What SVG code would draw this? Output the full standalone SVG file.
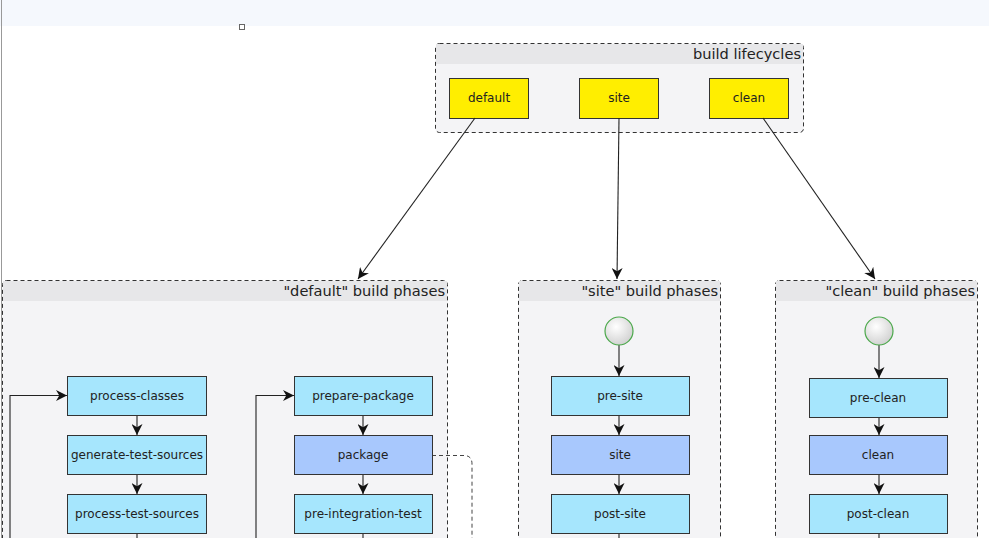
<svg xmlns="http://www.w3.org/2000/svg" width="989" height="538" viewBox="0 0 989 538">
<style>
.cont{fill:#f4f4f6;stroke:#333;stroke-width:1;stroke-dasharray:4,3}
.hdr{fill:#e7e7e9}
.title{font-family:"DejaVu Sans",sans-serif;font-size:14.6px;fill:#222;text-anchor:end}
.lc{fill:#ffee00;stroke:#333;stroke-width:1}
.ph{fill:#a6e6fd;stroke:#333;stroke-width:1}
.phm{fill:#a8c8fd;stroke:#333;stroke-width:1}
.lbl{font-family:"DejaVu Sans",sans-serif;font-size:12px;fill:#222;text-anchor:middle}
.edge{fill:none;stroke:#222;stroke-width:1.1}
.dash{fill:none;stroke:#444;stroke-width:1;stroke-dasharray:4,3}
.start{fill:url(#g);stroke:#4aa84a;stroke-width:1.2}
</style>
<defs>
<marker id="ah" viewBox="0 0 10 10" refX="10" refY="5" markerWidth="11" markerHeight="11" markerUnits="userSpaceOnUse" orient="auto">
<path d="M0,0 L10,5 L0,10 L3,5 z" fill="#111"/>
</marker>
<radialGradient id="g" cx="0.4" cy="0.35" r="0.7">
<stop offset="0" stop-color="#ffffff"/>
<stop offset="1" stop-color="#cfcfcf"/>
</radialGradient>
</defs>
<rect x="0" y="0" width="989" height="538" fill="#ffffff"/>
<rect x="0" y="0" width="989" height="26" fill="#f5f8fd"/>
<line x1="1.5" y1="0" x2="1.5" y2="538" stroke="#999" stroke-width="1"/>
<rect x="239.5" y="24.5" width="5" height="5" fill="#fff" stroke="#666" stroke-width="1"/>

<g id="build-lifecycles">
<rect class="cont" x="435.5" y="43.5" width="368" height="89" rx="4"/>
<rect class="hdr" x="436" y="44" width="367" height="20"/>
<text class="title" x="801" y="59">build lifecycles</text>
</g>
<g id="lc-default"><rect class="lc" x="449.5" y="78.5" width="79" height="40"/><text class="lbl" x="489" y="102">default</text></g>
<g id="lc-site"><rect class="lc" x="579.5" y="78.5" width="79" height="40"/><text class="lbl" x="619" y="102">site</text></g>
<g id="lc-clean"><rect class="lc" x="709.5" y="78.5" width="79" height="40"/><text class="lbl" x="749" y="102">clean</text></g>

<g id="default-phases">
<rect class="cont" x="2.5" y="280.5" width="445" height="270" rx="4"/>
<rect class="hdr" x="3" y="281" width="444" height="20"/>
<text class="title" x="445" y="296">"default" build phases</text>
</g>
<g id="site-phases">
<rect class="cont" x="518.5" y="280.5" width="202" height="270" rx="4"/>
<rect class="hdr" x="519" y="281" width="201" height="20"/>
<text class="title" x="718" y="296">"site" build phases</text>
</g>
<g id="clean-phases">
<rect class="cont" x="775.5" y="280.5" width="202" height="270" rx="4"/>
<rect class="hdr" x="776" y="281" width="201" height="20"/>
<text class="title" x="975" y="296">"clean" build phases</text>
</g>

<g id="connectors">
<line class="edge" x1="475" y1="118" x2="358" y2="279" marker-end="url(#ah)"/>
<line class="edge" x1="619" y1="118" x2="617" y2="279" marker-end="url(#ah)"/>
<line class="edge" x1="763" y1="118" x2="875" y2="279" marker-end="url(#ah)"/>
<polyline class="edge" points="10,538 10,395.5 67,395.5" marker-end="url(#ah)"/>
<polyline class="edge" points="256,538 256,395.5 294,395.5" marker-end="url(#ah)"/>
<line class="edge" x1="137" y1="415" x2="137" y2="435" marker-end="url(#ah)"/>
<line class="edge" x1="137" y1="474" x2="137" y2="494" marker-end="url(#ah)"/>
<line class="edge" x1="137" y1="533" x2="137" y2="538"/>
<line class="edge" x1="363" y1="415" x2="363" y2="435" marker-end="url(#ah)"/>
<line class="edge" x1="363" y1="474" x2="363" y2="494" marker-end="url(#ah)"/>
<line class="edge" x1="363" y1="533" x2="363" y2="538"/>
<path class="dash" d="M432,455.5 H464 Q472,455.5 472,464 V538"/>
<line class="edge" x1="619" y1="345" x2="619" y2="376" marker-end="url(#ah)"/>
<line class="edge" x1="619" y1="415" x2="619" y2="435" marker-end="url(#ah)"/>
<line class="edge" x1="619" y1="474" x2="619" y2="494" marker-end="url(#ah)"/>
<line class="edge" x1="619" y1="533" x2="619" y2="538"/>
<line class="edge" x1="879" y1="345" x2="879" y2="378" marker-end="url(#ah)"/>
<line class="edge" x1="879" y1="417" x2="879" y2="435" marker-end="url(#ah)"/>
<line class="edge" x1="879" y1="474" x2="879" y2="494" marker-end="url(#ah)"/>
<line class="edge" x1="879" y1="533" x2="879" y2="538"/>
</g>

<g id="process-classes"><rect class="ph" x="67.5" y="376.5" width="139" height="39"/><text class="lbl" x="137" y="400">process-classes</text></g>
<g id="generate-test-sources"><rect class="ph" x="67.5" y="435.5" width="139" height="39"/><text class="lbl" x="137" y="459">generate-test-sources</text></g>
<g id="process-test-sources"><rect class="ph" x="67.5" y="494.5" width="139" height="39"/><text class="lbl" x="137" y="518">process-test-sources</text></g>
<g id="prepare-package"><rect class="ph" x="294.5" y="376.5" width="138" height="39"/><text class="lbl" x="363" y="400">prepare-package</text></g>
<g id="package"><rect class="phm" x="294.5" y="435.5" width="138" height="39"/><text class="lbl" x="363" y="459">package</text></g>
<g id="pre-integration-test"><rect class="ph" x="294.5" y="494.5" width="138" height="39"/><text class="lbl" x="363" y="518">pre-integration-test</text></g>

<g id="site-start"><circle class="start" cx="619" cy="331" r="14"/></g>
<g id="pre-site"><rect class="ph" x="551.5" y="376.5" width="138" height="39"/><text class="lbl" x="620" y="400">pre-site</text></g>
<g id="site"><rect class="phm" x="551.5" y="435.5" width="138" height="39"/><text class="lbl" x="620" y="459">site</text></g>
<g id="post-site"><rect class="ph" x="551.5" y="494.5" width="138" height="39"/><text class="lbl" x="620" y="518">post-site</text></g>

<g id="clean-start"><circle class="start" cx="879" cy="331" r="14"/></g>
<g id="pre-clean"><rect class="ph" x="809.5" y="378.5" width="138" height="39"/><text class="lbl" x="878" y="402">pre-clean</text></g>
<g id="clean"><rect class="phm" x="809.5" y="435.5" width="138" height="39"/><text class="lbl" x="878" y="459">clean</text></g>
<g id="post-clean"><rect class="ph" x="809.5" y="494.5" width="138" height="39"/><text class="lbl" x="878" y="518">post-clean</text></g>
</svg>
